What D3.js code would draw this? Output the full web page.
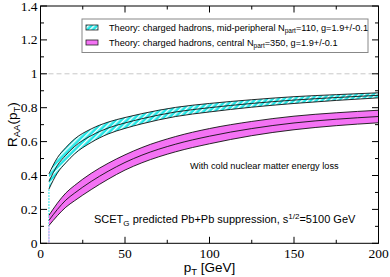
<!DOCTYPE html>
<html><head><meta charset="utf-8">
<script src="https://cdn.jsdelivr.net/npm/d3@7"></script>
<style>html,body{margin:0;padding:0;background:#fff;}svg{display:block;}</style>
</head><body>
<svg id="c" width="390" height="277"></svg>
<script>
const pT = [5,10,15,20,30,40,50,60,80,100,125,150,175,200];
const midUpper  = [0.410,0.505,0.565,0.614,0.675,0.715,0.742,0.765,0.802,0.825,0.847,0.865,0.877,0.888];
const midCenter = [0.365,0.460,0.520,0.570,0.635,0.680,0.710,0.735,0.775,0.800,0.825,0.845,0.860,0.873];
const midLower  = [0.320,0.415,0.475,0.526,0.595,0.645,0.678,0.705,0.748,0.775,0.803,0.825,0.843,0.858];
const cenUpper  = [0.165,0.237,0.297,0.340,0.413,0.472,0.522,0.565,0.630,0.677,0.719,0.750,0.770,0.785];
const cenCenter = [0.135,0.200,0.255,0.295,0.365,0.425,0.477,0.520,0.585,0.632,0.677,0.710,0.732,0.748];
const cenLower  = [0.105,0.163,0.213,0.250,0.317,0.378,0.432,0.475,0.540,0.587,0.635,0.670,0.694,0.711];
const xTicks = [0,50,100,150,200];
const yTicks = [0,0.2,0.4,0.6,0.8,1,1.2,1.4];
const yTickLabels = ["0","0.2","0.4","0.6","0.8","1","1.2","1.4"];
const legendLabels = ["Theory: charged hadrons, mid-peripheral N","Theory: charged hadrons, central N"];
const legendRest = ["=110, g=1.9+/-0.1","=350, g=1.9+/-0.1"];

const svg = d3.select("#c");
const L=40.5, R=378.5, T=6, B=243.3;
const x = d3.scaleLinear().domain([0,200]).range([L,R]);
const y = d3.scaleLinear().domain([0,1.4]).range([B,T]);
const SANS = "'Liberation Sans', Arial, sans-serif";
const SERIF = "'Liberation Serif', 'Times New Roman', serif";
const CYAN = "#22e6e6", MAG = "#f472f4";

const defs = svg.append("defs");
const pat = defs.append("pattern").attr("id","hatch").attr("patternUnits","userSpaceOnUse")
  .attr("width",4).attr("height",4).attr("patternTransform","rotate(45)");
pat.append("rect").attr("width",4).attr("height",4).attr("fill",CYAN);
pat.append("rect").attr("x",0).attr("width",1.4).attr("height",4).attr("fill","#fff");

defs.append("clipPath").attr("id","clip").append("rect").attr("x",L).attr("y",T).attr("width",R-L).attr("height",B-T);

const plot = svg.append("g").attr("clip-path","url(#clip)");

// dashed line at 1
plot.append("line").attr("x1",L).attr("x2",R).attr("y1",y(1)).attr("y2",y(1))
  .attr("stroke","#c8c8c8").attr("stroke-width",1).attr("stroke-dasharray","5,3");

const idx = d3.range(pT.length);
const area = (up,lo)=>d3.area().x(i=>x(pT[i])).y0(i=>y(lo[i])).y1(i=>y(up[i])).curve(d3.curveMonotoneX)(idx);
const line = (v)=>d3.line().x(i=>x(pT[i])).y(i=>y(v[i])).curve(d3.curveMonotoneX)(idx);

// vertical edge lines at first pT
plot.append("line").attr("x1",x(pT[0])).attr("x2",x(pT[0])).attr("y1",y(midLower[0])).attr("y2",y(0))
  .attr("stroke",CYAN).attr("stroke-width",1).attr("stroke-dasharray","2,1");
plot.append("line").attr("x1",x(pT[0])).attr("x2",x(pT[0])).attr("y1",y(cenLower[0])).attr("y2",y(0))
  .attr("stroke","#f7a8f7").attr("stroke-width",1);

plot.append("path").attr("d",area(midUpper,midLower)).attr("fill","url(#hatch)");
plot.append("path").attr("d",area(cenUpper,cenLower)).attr("fill",MAG);
[midUpper,midCenter,midLower,cenUpper,cenCenter,cenLower].forEach(v=>{
  plot.append("path").attr("d",line(v)).attr("fill","none").attr("stroke","#111").attr("stroke-width",0.9);
});

// frame
svg.append("rect").attr("x",L).attr("y",T).attr("width",R-L).attr("height",B-T)
  .attr("fill","none").attr("stroke","#000").attr("stroke-width",1);

// ticks inward
const ax = svg.append("g").attr("stroke","#000").attr("stroke-width",1);
d3.range(0,201,25).forEach(v=>{
  const len = v%50===0?6.5:3.5;
  ax.append("line").attr("x1",x(v)).attr("x2",x(v)).attr("y1",B).attr("y2",B-len);
  ax.append("line").attr("x1",x(v)).attr("x2",x(v)).attr("y1",T).attr("y2",T+len);
});
d3.range(0,15).forEach(k=>{
  const v=k/10, len = k%2===0?6.5:3.5;
  ax.append("line").attr("x1",L).attr("x2",L+len).attr("y1",y(v)).attr("y2",y(v));
  ax.append("line").attr("x1",R).attr("x2",R-len).attr("y1",y(v)).attr("y2",y(v));
});

// tick labels
svg.append("g").selectAll("text").data(xTicks).join("text")
  .attr("x",d=>x(d)).attr("y",B+15).attr("text-anchor","middle")
  .attr("font-family",SERIF).attr("font-size",13.5).text(d=>d);
svg.append("g").selectAll("text").data(yTicks).join("text")
  .attr("x",L-3).attr("y",d=>y(d)+4.5).attr("text-anchor","end")
  .attr("font-family",SERIF).attr("font-size",13.5).text((d,i)=>yTickLabels[i]);

// axis labels
const xl = svg.append("text").attr("x",(L+R)/2).attr("y",272).attr("text-anchor","middle")
  .attr("font-family",SANS).attr("font-size",13.5);
xl.append("tspan").text("p");
xl.append("tspan").attr("dy",3).attr("font-size",9.5).text("T");
xl.append("tspan").attr("dy",-3).text(" [GeV]");

const yl = svg.append("text").attr("transform",`translate(17,${(T+B)/2}) rotate(-90)`).attr("text-anchor","middle")
  .attr("font-family",SANS).attr("font-size",13.5);
yl.append("tspan").text("R");
yl.append("tspan").attr("dy",3).attr("font-size",9.5).text("AA");
yl.append("tspan").attr("dy",-3).text("(p");
yl.append("tspan").attr("dy",3).attr("font-size",9.5).text("T");
yl.append("tspan").attr("dy",-3).text(")");

// legend
svg.append("rect").attr("x",82).attr("y",19).attr("width",286).attr("height",33.5)
  .attr("fill","#fff").attr("stroke","#888").attr("stroke-width",1);
const fills = ["url(#hatch)",MAG];
const rowY = [27.5,42.5];
legendLabels.forEach((lab,i)=>{
  svg.append("rect").attr("x",86).attr("y",rowY[i]-2.5).attr("width",12).attr("height",5)
    .attr("fill",fills[i]).attr("stroke","#222").attr("stroke-width",0.8);
  const t = svg.append("text").attr("x",109).attr("y",rowY[i]+3).attr("font-family",SANS).attr("font-size",9.2);
  t.append("tspan").text(lab);
  t.append("tspan").attr("dy",2.5).attr("font-size",6.5).text("part");
  t.append("tspan").attr("dy",-2.5).text(legendRest[i]);
});

// annotations
svg.append("text").attr("x",190).attr("y",169).attr("font-family",SANS).attr("font-size",9.2)
  .text("With cold nuclear matter energy loss");
const an = svg.append("text").attr("x",94).attr("y",223).attr("font-family",SANS).attr("font-size",11);
an.append("tspan").text("SCET");
an.append("tspan").attr("dy",3).attr("font-size",8).text("G");
an.append("tspan").attr("dy",-3).text(" predicted Pb+Pb suppression, s");
an.append("tspan").attr("dy",-4.5).attr("font-size",8).text("1/2");
an.append("tspan").attr("dy",4.5).text("=5100 GeV");
</script>
</body></html>
